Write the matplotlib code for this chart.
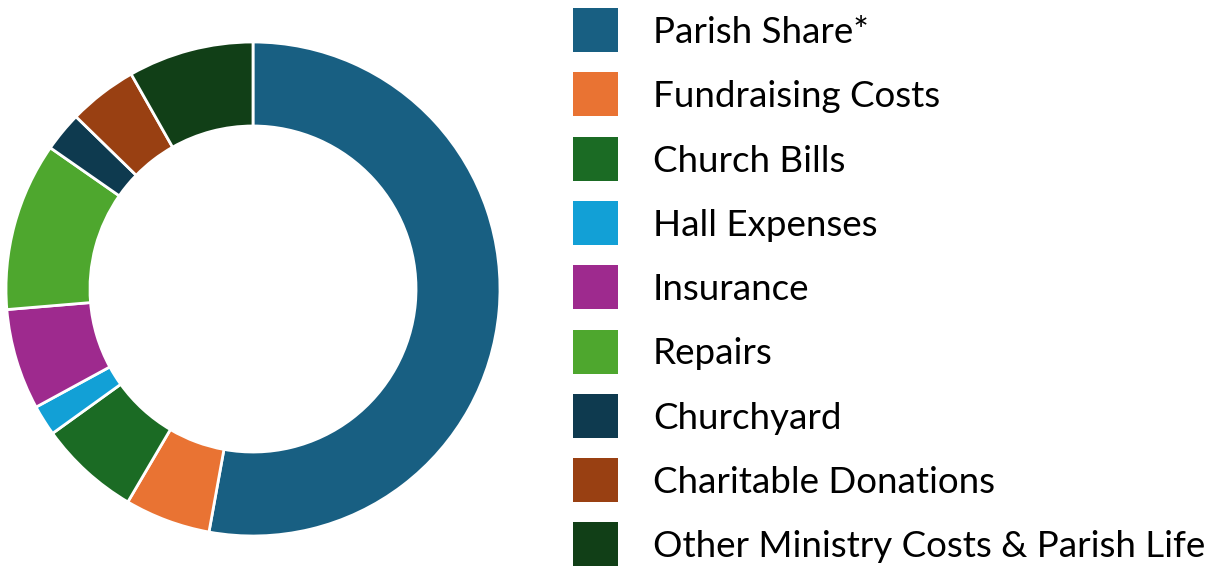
import matplotlib
matplotlib.use('Agg')
from matplotlib import pyplot as plt
from matplotlib.patches import Rectangle

# spending split (percent of total)
labels = ['Parish Share*', 'Fundraising Costs', 'Church Bills', 'Hall Expenses',
          'Insurance', 'Repairs', 'Churchyard', 'Charitable Donations',
          'Other Ministry Costs & Parish Life']
values = [52.8, 5.6, 6.6, 2.0, 6.6, 11.0, 2.6, 4.5, 8.2]
colors = ['#185f82', '#e97333', '#1b6b24', '#12a0d6', '#9e2a8e',
          '#4ea72e', '#0e3a4f', '#994012', '#113f17']

W, H = 1230, 567
fig = plt.figure(figsize=(W/100, H/100), dpi=100)

# donut: centre (253,289) px, outer radius 247 px
cx, cy, r = 253, 289, 247
ax = fig.add_axes([(cx-r)/W, (H-cy-r)/H, 2*r/W, 2*r/H])
ax.pie(values, colors=colors, startangle=90, counterclock=False, radius=1,
       wedgeprops=dict(width=0.34, edgecolor='white', linewidth=2))
ax.set_xlim(-1, 1)
ax.set_ylim(-1, 1)
ax.set_aspect('equal')
ax.axis('off')

# legend drawn by hand
y0, step = 30, 64.3
for i, (lab, col) in enumerate(zip(labels, colors)):
    yc = y0 + i*step
    fig.add_artist(Rectangle((573/W, 1-(yc+22)/H), 45/W, 44/H,
                             facecolor=col, edgecolor='none',
                             transform=fig.transFigure))
    fig.text(653/W, 1-(yc+13)/H, lab, fontsize=26.5, family='Lato',
             va='baseline', ha='left', color='black')

fig.savefig('out.png', dpi=100)
